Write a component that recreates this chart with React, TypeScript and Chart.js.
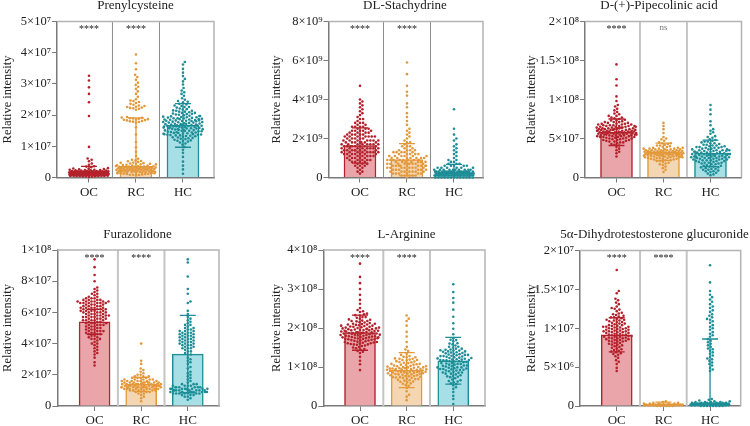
import React, { useEffect, useRef } from 'react';
import { Chart, registerables } from 'chart.js';

Chart.register(...registerables);

const FONT = "'Liberation Serif', 'Times New Roman', serif";
const CATEGORIES = ['OC', 'RC', 'HC'];
const TITLES = [
  'Prenylcysteine',
  'DL-Stachydrine',
  'D-(+)-Pipecolinic acid',
  'Furazolidone',
  'L-Arginine',
  '5α-Dihydrotestosterone glucuronide',
];
const Y_TITLE = 'Relative intensity';

const POINT_COLORS = ['#b3222c', '#e3993b', '#1d8d96'];
const BAR_FILLS = ['#e9a5aa', '#f4d6b2', '#a6dfe6'];

// ---- Prenylcysteine (values in units of 1e5) ----
const PREN_UNIT = 1e5;
const PREN_TICKS = [0, 1e7, 2e7, 3e7, 4e7, 5e7];
const PREN_MEAN = [15.5, 36, 167];
const PREN_SD = [20, 155, 70];
const PREN_SIG = ['****', '****', ''];
const PREN_OC = [12, 7, 18, 4, 22, 9, 15, 11, 26, 6, 14, 19, 3, 10, 17, 8, 13, 24, 5, 16, 12, 20, 9, 28, 7, 15, 11, 18, 2, 13, 21, 10, 6, 17, 14, 25, 8, 12, 19, 4, 16, 11, 23, 9, 15, 30, 7, 13, 18, 10, 5, 20, 14, 12, 27, 8, 16, 11, 22, 6, 15, 9, 19, 13, 33, 10, 17, 4, 12, 21, 8, 14, 36, 11, 18, 7, 16, 24, 13, 9, 41, 15, 12, 45, 10, 19, 52, 14, 57, 17, 61, 11, 98, 197, 241, 268, 289, 311, 326, 13, 8, 16, 20, 6, 12, 10, 14, 7, 17, 12, 9, 19, 5, 13, 16, 8, 11, 21, 15, 6, 18, 10, 13, 23, 9, 14, 12, 7, 16, 11, 20, 8, 15, 13, 25, 10, 17, 6, 12, 14, 29, 9, 18, 11, 35];
const PREN_RC = [18, 32, 9, 45, 25, 14, 38, 21, 52, 11, 29, 40, 16, 34, 7, 27, 48, 19, 36, 23, 13, 42, 30, 57, 10, 26, 35, 17, 44, 22, 31, 8, 39, 24, 15, 50, 28, 20, 37, 12, 33, 46, 26, 18, 41, 29, 55, 21, 14, 35, 24, 60, 30, 16, 43, 69, 82, 97, 114, 138, 161, 176, 183, 179, 188, 185, 191, 181, 194, 186, 189, 178, 192, 184, 217, 224, 220, 231, 227, 236, 222, 242, 229, 247, 233, 239, 226, 251, 259, 268, 276, 284, 291, 297, 304, 313, 322, 329, 347, 366, 394, 22, 17, 31, 12, 26, 38, 15, 28, 20, 33, 9, 24, 42, 19, 30, 14, 27, 36, 23, 11, 47, 25, 18, 34, 29, 16, 21, 53, 27, 32, 187, 180, 223, 245, 190];
const PREN_HC = [165, 142, 188, 121, 207, 156, 174, 98, 231, 138, 192, 160, 115, 183, 149, 214, 171, 127, 199, 153, 245, 109, 178, 162, 136, 221, 184, 146, 268, 170, 118, 195, 157, 133, 209, 176, 89, 241, 151, 186, 129, 163, 226, 140, 201, 167, 112, 181, 254, 147, 190, 132, 172, 218, 158, 79, 197, 143, 236, 166, 124, 185, 154, 279, 175, 106, 203, 139, 161, 193, 148, 262, 180, 128, 211, 168, 298, 152, 187, 66, 229, 135, 173, 308, 159, 196, 119, 249, 144, 316, 182, 51, 224, 164, 287, 137, 205, 325, 155, 38, 273, 191, 336, 26, 178, 348, 12, 362, 370, 215, 150, 169, 152, 176, 139, 198, 163, 187, 144, 211, 171, 126, 193, 158, 182, 135, 204, 167, 148, 226, 177, 131, 189, 160, 214, 143, 172, 197, 155, 183, 123, 207, 166, 141, 179, 234, 150, 194, 161, 117, 186, 219, 145, 170, 202, 134, 157, 181, 243, 164, 190, 137];

// ---- DL-Stachydrine (units of 1e8) ----
const STACH_UNIT = 1e8;
const STACH_TICKS = [0, 2e9, 4e9, 6e9, 8e9];
const STACH_MEAN = [16.4, 9.2, 3.1];
const STACH_SD = [9, 8.2, 3.6];
const STACH_SIG = ['****', '****', ''];
const STACH_OC = [14, 8, 21, 17, 5, 26, 12, 19, 10, 31, 15, 7, 23, 18, 3, 13, 28, 16, 9, 20, 35, 11, 24, 14, 6, 17, 29, 12, 22, 4, 16, 38, 10, 19, 25, 13, 8, 21, 15, 33, 11, 18, 27, 7, 14, 23, 2, 17, 36, 12, 20, 9, 16, 30, 13, 24, 6, 19, 40, 15, 11, 22, 18, 26, 8, 14, 32, 10, 21, 17, 3, 25, 13, 39, 16, 20, 12, 28, 5, 18, 15, 23, 9, 34, 14, 19, 11, 47, 24, 16, 7, 21, 13, 37, 17, 10, 26, 15, 22, 12, 15, 19, 11, 22, 17, 13, 25, 9, 18, 14, 21, 16, 27, 12, 20, 8, 17, 23, 15, 19, 10, 24, 13, 18, 30, 16, 21, 6, 14, 26, 19, 12, 17, 22, 11, 15, 28, 20, 13, 18, 24, 16, 9, 21, 14];
const STACH_RC = [5, 2, 9, 12, 1, 7, 15, 4, 10, 3, 8, 18, 6, 13, 0, 11, 5, 21, 7, 2, 14, 9, 4, 16, 6, 1, 10, 25, 3, 8, 12, 5, 19, 7, 11, 2, 29, 6, 9, 4, 14, 8, 17, 3, 10, 36, 5, 13, 7, 1, 23, 9, 6, 11, 4, 31, 8, 15, 2, 12, 44, 6, 10, 20, 3, 7, 27, 5, 13, 9, 38, 4, 16, 8, 1, 11, 47, 6, 14, 33, 2, 10, 53, 7, 22, 5, 59, 12, 42, 3, 9, 4, 8, 6, 11, 2, 9, 5, 13, 7, 3, 10, 6, 14, 8, 1, 12, 5, 9, 7, 16, 4, 11, 6, 18, 8, 3, 10, 24, 7, 13];
const STACH_HC = [1, 2, 0, 3, 1, 4, 2, 1, 0, 5, 2, 3, 1, 2, 6, 0, 1, 3, 2, 4, 1, 0, 2, 7, 3, 1, 2, 5, 0, 1, 3, 2, 8, 1, 4, 2, 0, 3, 1, 9, 2, 6, 1, 3, 0, 2, 11, 4, 1, 2, 5, 3, 13, 1, 0, 2, 7, 4, 15, 1, 3, 2, 17, 6, 1, 0, 19, 2, 4, 22, 3, 8, 1, 25, 5, 2, 12, 35, 3, 1, 10, 4, 2, 0, 6, 1, 3, 2, 14, 2, 1, 3, 0, 2, 4, 1, 2, 3, 5, 1, 0, 2, 3, 1, 4, 2, 6, 1, 3, 2, 0, 5, 1, 2, 3, 7, 1, 4, 2, 9, 3, 1, 16, 2, 20];

// ---- D-(+)-Pipecolinic acid (units of 1e6) ----
const PIPE_UNIT = 1e6;
const PIPE_TICKS = [0, 5e7, 1e8, 1.5e8, 2e8];
const PIPE_MEAN = [58, 33, 31];
const PIPE_SD = [17, 11, 17];
const PIPE_SIG = ['****', 'ns', ''];
const PIPE_OC = [57, 48, 66, 52, 73, 44, 61, 55, 39, 69, 58, 50, 79, 63, 46, 54, 71, 59, 35, 65, 51, 84, 56, 62, 43, 68, 53, 76, 60, 47, 57, 88, 64, 49, 70, 55, 31, 61, 52, 93, 67, 58, 45, 74, 54, 63, 27, 59, 81, 50, 66, 56, 41, 72, 62, 53, 98, 60, 48, 68, 57, 37, 64, 77, 55, 51, 86, 61, 45, 69, 58, 104, 53, 65, 42, 60, 75, 56, 33, 63, 49, 118, 59, 71, 54, 126, 62, 47, 67, 145, 57, 52, 82, 64, 58, 59, 63, 54, 67, 57, 61, 50, 65, 58, 71, 55, 62, 48, 66, 60, 53, 69, 57, 64, 51, 73, 59, 56, 68, 62, 46, 65, 58, 77, 54, 61, 66, 52, 70, 57, 63, 60, 79, 55, 91];
const PIPE_RC = [31, 25, 36, 28, 40, 22, 33, 30, 18, 35, 27, 42, 32, 24, 38, 29, 14, 34, 26, 45, 31, 21, 37, 28, 33, 49, 30, 19, 36, 25, 41, 32, 12, 29, 34, 23, 52, 31, 27, 39, 35, 20, 30, 44, 26, 33, 7, 37, 29, 57, 32, 24, 36, 16, 31, 28, 47, 34, 22, 38, 30, 62, 26, 35, 10, 33, 29, 43, 31, 66, 25, 37, 32, 70, 28, 34, 30, 30, 33, 27, 35, 29, 32, 25, 37, 31, 28, 34, 24, 36, 30, 26, 33, 39, 29, 31, 21, 35, 28, 32, 41, 27, 30, 34, 23, 38, 31, 17, 44, 29, 50];
const PIPE_HC = [29, 14, 38, 22, 45, 9, 33, 18, 27, 51, 12, 36, 24, 41, 6, 31, 19, 47, 26, 34, 15, 56, 21, 39, 8, 30, 43, 17, 28, 62, 11, 35, 23, 49, 32, 4, 25, 40, 16, 58, 20, 37, 29, 13, 44, 27, 67, 10, 33, 21, 53, 36, 7, 26, 42, 18, 31, 72, 24, 46, 15, 39, 28, 81, 11, 34, 22, 60, 30, 5, 41, 19, 87, 25, 35, 13, 48, 32, 93, 23, 38, 27, 3, 30, 27, 33, 21, 38, 25, 30, 17, 35, 28, 42, 23, 32, 19, 36, 26, 40, 29, 14, 34, 24, 31, 46, 22, 37, 27, 10, 33, 20, 39, 30, 52, 25, 35, 8, 44, 28];

// ---- Furazolidone (units of 1e6) ----
const FURA_UNIT = 1e6;
const FURA_TICKS = [0, 2e7, 4e7, 6e7, 8e7, 1e8];
const FURA_MEAN = [54, 13.9, 33.3];
const FURA_SD = [8, 4.5, 24.8];
const FURA_SIG = ['****', '****', ''];
const FURA_OC = [54, 62, 47, 68, 41, 58, 66, 35, 51, 72, 45, 60, 56, 38, 64, 49, 70, 53, 43, 67, 59, 31, 61, 48, 75, 55, 65, 40, 52, 69, 46, 63, 57, 36, 67, 50, 73, 44, 60, 54, 28, 66, 48, 58, 62, 39, 71, 53, 65, 42, 57, 68, 47, 76, 61, 34, 55, 64, 50, 69, 45, 59, 26, 67, 52, 63, 37, 74, 56, 48, 66, 43, 61, 80, 53, 68, 40, 58, 65, 33, 51, 84, 62, 46, 67, 55, 89, 60, 44, 94, 57, 66, 49, 63, 58, 63, 52, 66, 56, 61, 49, 68, 59, 54, 64, 47, 60, 67, 55, 62, 51, 69, 57, 65, 46, 60, 53, 63, 58, 70, 56, 50, 66, 61, 43, 59, 64, 55, 72, 62, 48, 57, 67, 52];
const FURA_RC = [13, 10, 16, 12, 18, 8, 14, 11, 20, 15, 9, 13, 17, 6, 12, 15, 22, 11, 14, 10, 19, 13, 7, 16, 12, 24, 14, 9, 17, 11, 15, 13, 5, 18, 12, 21, 14, 10, 16, 8, 13, 27, 15, 11, 19, 12, 14, 3, 17, 13, 10, 16, 29, 12, 15, 20, 11, 14, 9, 18, 13, 40, 16, 12, 15, 11, 12, 15, 10, 14, 13, 16, 11, 17, 12, 14, 9, 15, 13, 18, 11, 16, 12, 14, 10, 13, 19, 15, 12, 17, 14, 11, 23];
const FURA_HC = [9, 42, 11, 37, 8, 48, 10, 45, 12, 33, 7, 51, 9, 40, 14, 44, 10, 36, 8, 53, 11, 47, 6, 39, 13, 43, 9, 31, 10, 55, 8, 46, 16, 41, 12, 38, 5, 49, 9, 35, 11, 57, 19, 44, 10, 42, 7, 28, 13, 50, 8, 39, 22, 46, 11, 34, 9, 59, 15, 43, 4, 48, 25, 37, 12, 52, 10, 41, 18, 61, 8, 45, 30, 40, 14, 66, 11, 47, 21, 67, 9, 72, 13, 75, 27, 83, 10, 92, 12, 94, 10, 8, 11, 9, 12, 7, 10, 13, 9, 11, 8, 10, 6, 12, 9, 14, 11, 43, 39, 46, 41, 48, 37, 44, 50, 40, 45, 35, 47, 42, 52, 38, 54, 33, 49, 56, 17, 24, 20, 29];

// ---- L-Arginine (units of 1e6) ----
const ARG_UNIT = 1e6;
const ARG_TICKS = [0, 1e8, 2e8, 3e8, 4e8];
const ARG_MEAN = [188, 92, 116];
const ARG_SD = [45, 45, 60];
const ARG_SIG = ['****', '****', ''];
const ARG_OC = [187, 162, 214, 176, 203, 148, 195, 228, 169, 182, 241, 157, 199, 173, 210, 136, 189, 222, 165, 192, 251, 178, 144, 206, 184, 233, 159, 197, 171, 218, 126, 186, 208, 163, 193, 262, 175, 151, 201, 180, 224, 167, 190, 139, 211, 183, 272, 158, 196, 174, 237, 146, 204, 188, 116, 217, 170, 191, 285, 161, 199, 179, 228, 154, 185, 107, 209, 168, 243, 194, 176, 300, 150, 202, 181, 221, 164, 92, 189, 315, 172, 206, 235, 186, 331, 160, 198, 365, 177, 213, 183, 197, 171, 209, 189, 176, 215, 164, 201, 185, 193, 158, 226, 180, 207, 168, 195, 188, 219, 174, 203, 155, 191, 182, 232, 166, 198, 186, 211, 172, 179, 246, 194, 161, 205, 187, 141, 218, 177, 200];
const ARG_RC = [88, 72, 104, 95, 61, 117, 83, 99, 54, 110, 77, 92, 125, 67, 101, 86, 46, 113, 79, 96, 134, 70, 89, 107, 58, 122, 81, 94, 141, 65, 98, 75, 115, 38, 91, 103, 152, 69, 85, 119, 62, 97, 164, 74, 108, 87, 29, 126, 80, 93, 178, 66, 111, 84, 190, 57, 100, 121, 73, 206, 90, 15, 118, 82, 218, 95, 24, 128, 76, 232, 106, 89, 224, 102, 93, 81, 105, 87, 99, 72, 112, 90, 84, 118, 95, 77, 102, 88, 125, 69, 96, 108, 83, 91, 131, 74, 100, 86, 114, 79, 94, 63, 106, 89, 145, 97, 52, 121];
const ARG_HC = [112, 86, 138, 97, 155, 64, 123, 104, 79, 147, 118, 92, 169, 71, 131, 108, 53, 142, 99, 125, 83, 184, 115, 61, 136, 94, 150, 76, 127, 110, 44, 161, 89, 133, 103, 198, 68, 120, 145, 81, 114, 36, 174, 96, 139, 58, 128, 106, 212, 74, 152, 91, 122, 26, 166, 101, 135, 229, 85, 117, 48, 143, 99, 247, 63, 130, 18, 158, 109, 265, 77, 124, 277, 5, 140, 95, 292, 119, 312, 132, 117, 95, 131, 104, 142, 88, 121, 110, 152, 98, 126, 83, 137, 113, 102, 160, 91, 128, 119, 75, 134, 106, 147, 99, 123, 66, 115, 140, 93, 129, 108, 170, 86, 118, 56, 144];

// ---- 5α-Dihydrotestosterone glucuronide (units of 1e5) ----
const DHT_UNIT = 1e5;
const DHT_TICKS = [0, 5e6, 1e7, 1.5e7, 2e7];
const DHT_MEAN = [91.5, 2, 4.2];
const DHT_SD = [22, 3, 82];
const DHT_SIG = ['****', '****', ''];
const DHT_OC = [92, 78, 105, 86, 118, 70, 97, 83, 111, 64, 100, 89, 124, 75, 94, 108, 59, 102, 81, 115, 91, 68, 128, 87, 99, 73, 113, 95, 54, 106, 84, 120, 90, 77, 133, 96, 66, 103, 88, 117, 80, 98, 138, 71, 109, 93, 49, 112, 85, 101, 145, 62, 96, 122, 79, 104, 148, 87, 57, 114, 99, 131, 74, 107, 91, 45, 126, 83, 136, 175, 95, 110, 69, 102, 89, 93, 86, 101, 79, 108, 90, 97, 83, 114, 94, 88, 104, 76, 99, 92, 111, 85, 102, 96, 119, 81, 106, 89, 98, 72, 110, 95, 87, 125, 100, 91, 67, 116, 84, 103];
const DHT_RC = [1, 2, 0, 3, 1, 2, 1, 4, 2, 0, 1, 3, 2, 1, 5, 2, 1, 0, 2, 3, 1, 2, 4, 1, 0, 2, 1, 3, 2, 1, 2, 0, 1, 3, 2, 1, 6, 2, 1, 0];
const DHT_HC = [1, 3, 2, 0, 4, 2, 1, 5, 3, 2, 0, 6, 1, 2, 4, 3, 1, 0, 2, 7, 3, 1, 2, 5, 0, 4, 2, 1, 3, 8, 2, 1, 0, 3, 2, 6, 1, 4, 2, 0, 3, 1, 2, 5, 9, 1, 3, 0, 2, 4, 45, 49, 54, 58, 63, 67, 71, 76, 80, 84, 89, 93, 98, 102, 107, 111, 116, 121, 126, 131, 137, 143, 148, 159, 181, 95, 112, 104, 118, 52, 61, 74, 86, 3, 1, 2, 4, 0, 2, 1, 3, 5, 2, 47, 56, 65, 73, 82, 91, 100, 109, 114, 123, 128, 134, 140, 60, 69, 78];

const PANELS = [
  { title: TITLES[0], unit: PREN_UNIT, ticks: PREN_TICKS, groups: [PREN_OC, PREN_RC, PREN_HC], means: PREN_MEAN, sds: PREN_SD, sig: PREN_SIG },
  { title: TITLES[1], unit: STACH_UNIT, ticks: STACH_TICKS, groups: [STACH_OC, STACH_RC, STACH_HC], means: STACH_MEAN, sds: STACH_SD, sig: STACH_SIG },
  { title: TITLES[2], unit: PIPE_UNIT, ticks: PIPE_TICKS, groups: [PIPE_OC, PIPE_RC, PIPE_HC], means: PIPE_MEAN, sds: PIPE_SD, sig: PIPE_SIG },
  { title: TITLES[3], unit: FURA_UNIT, ticks: FURA_TICKS, groups: [FURA_OC, FURA_RC, FURA_HC], means: FURA_MEAN, sds: FURA_SD, sig: FURA_SIG },
  { title: TITLES[4], unit: ARG_UNIT, ticks: ARG_TICKS, groups: [ARG_OC, ARG_RC, ARG_HC], means: ARG_MEAN, sds: ARG_SD, sig: ARG_SIG },
  { title: TITLES[5], unit: DHT_UNIT, ticks: DHT_TICKS, groups: [DHT_OC, DHT_RC, DHT_HC], means: DHT_MEAN, sds: DHT_SD, sig: DHT_SIG },
];

// layout: canvas box + desired chart area (page px)
const X_AXIS_H = 20;
const LAYOUT = [
  { left: 0, top: 0, width: 250, height: 213, area: { l: 57, t: 21.5, r: 214, b: 177.5 }, titleX: 135.5, xMin: -0.68, xMax: 2.66, bar: 32, divColor: '#8c8c8c', divWidth: 1 },
  { left: 269, top: 0, width: 231, height: 213, area: { l: 328.5, t: 21.5, r: 483, b: 177.5 }, titleX: 405, xMin: -0.67, xMax: 2.617, bar: 32, divColor: '#8c8c8c', divWidth: 1 },
  { left: 524, top: 0, width: 226, height: 213, area: { l: 585, t: 21.5, r: 741.5, b: 177.5 }, titleX: 659, xMin: -0.67, xMax: 2.66, bar: 32, divColor: '#8c8c8c', divWidth: 1 },
  { left: 0, top: 213, width: 250, height: 213, area: { l: 57.3, t: 250, r: 219, b: 406 }, titleX: 137.5, xMin: -0.8, xMax: 2.67, bar: 31, divColor: '#c4c4c4', divWidth: 2 },
  { left: 269, top: 213, width: 231, height: 213, area: { l: 323.3, t: 250, r: 485, b: 406 }, titleX: 406.5, xMin: -0.787, xMax: 2.68, bar: 31, divColor: '#c4c4c4', divWidth: 2 },
  { left: 524, top: 213, width: 226, height: 213, area: { l: 580, t: 250.5, r: 740.7, b: 406 }, titleX: 654.5, xMin: -0.787, xMax: 2.657, bar: 31, divColor: '#c4c4c4', divWidth: 2 },
];

const SUP: Record<string, string> = { '0': '⁰', '1': '¹', '2': '²', '3': '³', '4': '⁴', '5': '⁵', '6': '⁶', '7': '⁷', '8': '⁸', '9': '⁹' };
function fmtTick(v: number): string {
  if (v === 0) return '0';
  const exp = Math.floor(Math.log10(v) + 1e-9);
  const mant = Math.round((v / Math.pow(10, exp)) * 10) / 10;
  const e = String(exp).split('').map((c) => SUP[c]).join('');
  return `${mant}×10${e}`;
}

const swarmPlugin = {
  id: 'swarm',
  afterDatasetsUpdate(chart: any) {
    const D = 3.1;
    const maxHalf = 20;
    chart.data.datasets.forEach((ds: any, di: number) => {
      if (ds.type !== 'scatter') return;
      const meta = chart.getDatasetMeta(di);
      const els = meta.data;
      const cx = chart.scales.x.getPixelForValue(ds.center);
      const order = els.map((_: any, i: number) => i).sort((a: number, b: number) => els[b].y - els[a].y);
      const placed: { x: number; y: number }[] = [];
      order.forEach((idx: number, k: number) => {
        const el = els[idx];
        const y = el.y;
        const near = placed.filter((p) => Math.abs(p.y - y) < D);
        const cands = [0];
        near.forEach((p) => {
          const dx = Math.sqrt(D * D - (p.y - y) * (p.y - y));
          cands.push(p.x + dx + 0.01, p.x - dx - 0.01);
        });
        cands.sort((a, b) => Math.abs(a) - Math.abs(b));
        let best: number | null = null;
        for (const c of cands) {
          if (Math.abs(c) > maxHalf) break;
          if (near.every((p) => (p.x - c) * (p.x - c) + (p.y - y) * (p.y - y) >= D * D - 1e-6)) {
            best = c;
            break;
          }
        }
        if (best === null) {
          const f = ((k * 0.618034) % 1) * 2 - 1;
          best = f * maxHalf;
        }
        placed.push({ x: best, y });
        el.x = cx + best;
      });
    });
  },
};

function Panel({ p, lay }: { p: any; lay: any }) {
  const ref = useRef<HTMLCanvasElement>(null);
  useEffect(() => {
    const canvas = ref.current!;
    const yAxisW = lay.area.l - lay.left;
    const padding = {
      left: 0,
      top: lay.area.t - lay.top,
      right: lay.left + lay.width - lay.area.r,
      bottom: lay.top + lay.height - lay.area.b - X_AXIS_H,
    };
    const decor = {
      id: 'decor',
      beforeDatasetsDraw(chart: any) {
        const { ctx, chartArea: a, scales } = chart;
        ctx.save();
        ctx.strokeStyle = lay.divColor;
        ctx.lineWidth = lay.divWidth;
        [0.5, 1.5].forEach((v) => {
          const x = scales.x.getPixelForValue(v);
          ctx.beginPath();
          ctx.moveTo(x, a.top);
          ctx.lineTo(x, a.bottom);
          ctx.stroke();
        });
        ctx.strokeStyle = '#b4b4b4';
        ctx.lineWidth = 1.5;
        ctx.beginPath();
        ctx.moveTo(a.left, a.top);
        ctx.lineTo(a.right, a.top);
        ctx.lineTo(a.right, a.bottom);
        ctx.stroke();
        ctx.restore();
      },
      afterDatasetDraw(chart: any, args: any) {
        if (args.meta.type !== 'bar') return;
        const { ctx, scales } = chart;
        ctx.save();
        // error bars (mean ± SD), drawn over the bars and under the points
        p.means.forEach((m: number, i: number) => {
          const cx = scales.x.getPixelForValue(i);
          const hi = scales.y.getPixelForValue((m + p.sds[i]) * p.unit);
          const loV = m - p.sds[i];
          const lo = scales.y.getPixelForValue(Math.max(0, loV) * p.unit);
          ctx.strokeStyle = POINT_COLORS[i];
          ctx.lineWidth = 1.3;
          ctx.beginPath();
          ctx.moveTo(cx, lo);
          ctx.lineTo(cx, hi);
          ctx.moveTo(cx - 8, hi);
          ctx.lineTo(cx + 8, hi);
          if (loV > 0) {
            ctx.moveTo(cx - 8, lo);
            ctx.lineTo(cx + 8, lo);
          }
          ctx.stroke();
        });
        ctx.restore();
      },
      afterDatasetsDraw(chart: any) {
        const { ctx, chartArea: a, scales } = chart;
        ctx.save();
        // significance marks
        p.sig.forEach((s: string, i: number) => {
          if (!s) return;
          const cx = scales.x.getPixelForValue(i);
          ctx.textAlign = 'center';
          ctx.textBaseline = 'alphabetic';
          if (s === 'ns') {
            ctx.font = `9px ${FONT}`;
            ctx.fillStyle = '#777';
            ctx.fillText(s, cx, a.top + 8);
          } else {
            ctx.font = `10px ${FONT}`;
            ctx.fillStyle = '#222';
            ctx.fillText(s, cx, a.top + 10.5);
          }
        });
        // panel title
        ctx.font = `13px ${FONT}`;
        ctx.fillStyle = '#222';
        ctx.textAlign = 'center';
        ctx.textBaseline = 'middle';
        ctx.fillText(p.title, lay.titleX - lay.left, a.top - 15.5);
        ctx.restore();
      },
    };
    const chart = new Chart(canvas, {
      type: 'bar',
      data: {
        datasets: [
          ...p.groups.map((vals: number[], i: number) => ({
            type: 'scatter',
            label: CATEGORIES[i],
            center: i,
            data: vals.map((v) => ({ x: i, y: v * p.unit })),
            backgroundColor: POINT_COLORS[i],
            borderWidth: 0,
            pointRadius: 1.3,
            pointHoverRadius: 1.3,
            pointBorderWidth: 0,
            clip: false,
            order: 0,
          })),
          {
            type: 'bar',
            label: 'Mean',
            data: p.means.map((m: number, i: number) => ({ x: i, y: m * p.unit })),
            backgroundColor: BAR_FILLS,
            borderColor: POINT_COLORS,
            borderWidth: 1.5,
            barThickness: lay.bar,
            order: 1,
          },
        ],
      } as any,
      options: {
        responsive: false,
        animation: false,
        devicePixelRatio: 1,
        layout: { padding },
        plugins: { legend: { display: false }, tooltip: { enabled: false }, title: { display: false } },
        scales: {
          x: {
            type: 'linear',
            min: lay.xMin,
            max: lay.xMax,
            offset: false,
            afterBuildTicks: (s: any) => {
              s.ticks = CATEGORIES.map((_, i) => ({ value: i }));
            },
            afterFit: (s: any) => {
              s.height = X_AXIS_H;
            },
            ticks: {
              callback: (v: any) => CATEGORIES[v] ?? '',
              font: { family: FONT, size: 13 },
              color: '#222',
              padding: 2,
              maxRotation: 0,
              autoSkip: false,
            },
            grid: { drawOnChartArea: false, offset: false, drawTicks: true, tickLength: 5, tickColor: '#7a7a7a', tickWidth: 1 },
            border: { color: '#7a7a7a', width: 1.5 },
          },
          y: {
            type: 'linear',
            min: 0,
            max: p.ticks[p.ticks.length - 1],
            afterBuildTicks: (s: any) => {
              s.ticks = p.ticks.map((v: number) => ({ value: v }));
            },
            afterFit: (s: any) => {
              s.width = yAxisW;
            },
            ticks: {
              callback: (v: any) => fmtTick(Number(v)),
              font: { family: FONT, size: 12.5 },
              color: '#222',
              padding: 1,
              autoSkip: false,
            },
            title: { display: true, text: Y_TITLE, font: { family: FONT, size: 12.5 }, color: '#222', padding: 0 },
            grid: { drawOnChartArea: false, drawTicks: true, tickLength: 5, tickColor: '#7a7a7a', tickWidth: 1 },
            border: { color: '#7a7a7a', width: 1.5 },
          },
        },
      } as any,
      plugins: [swarmPlugin, decor],
    });
    return () => chart.destroy();
  }, []);
  return (
    <canvas
      ref={ref}
      width={lay.width}
      height={lay.height}
      style={{ position: 'absolute', left: lay.left, top: lay.top, width: lay.width, height: lay.height }}
    />
  );
}

export default function App() {
  return (
    <div style={{ position: 'absolute', left: 0, top: 0, width: 750, height: 426, background: '#fff', overflow: 'hidden' }}>
      {PANELS.map((p, i) => (
        <Panel key={i} p={p} lay={LAYOUT[i]} />
      ))}
    </div>
  );
}
